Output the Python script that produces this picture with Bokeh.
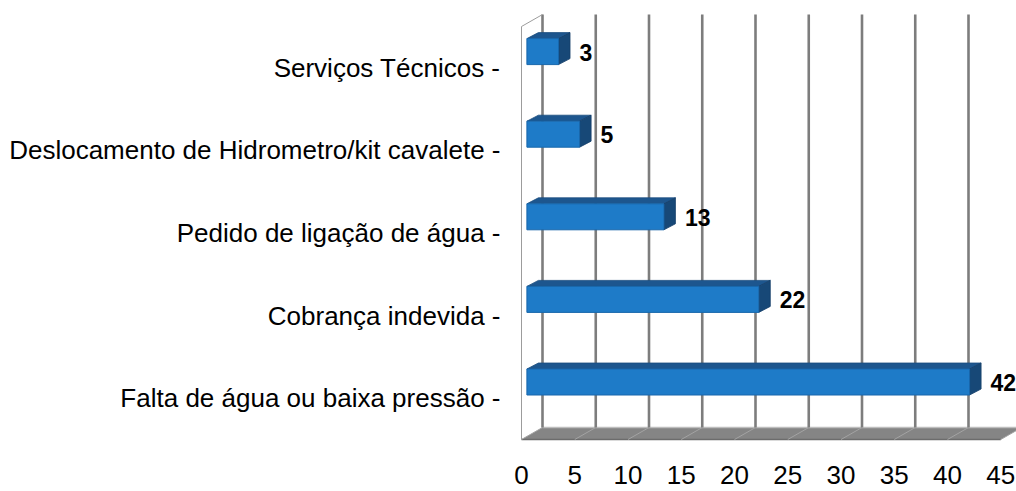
from bokeh.plotting import figure
from bokeh.models import ColumnDataSource, Range1d
from bokeh.core.properties import value
from bokeh.embed import file_html
from bokeh.resources import INLINE

# ---- data (bottom to top) ----
categories = ["Falta de água ou baixa pressão", "Cobrança indevida",
              "Pedido de ligação de água", "Deslocamento de Hidrometro/kit cavalete",
              "Serviços Técnicos"]
counts = [42, 22, 13, 5, 3]
ticks = [0, 5, 10, 15, 20, 25, 30, 35, 40, 45]
tick_labels = [str(t) for t in ticks]

# ---- layout constants (pixels -> data units) ----
W, H = 1016, 491
PX = 10.65          # px per value unit
PY = 82.6           # px per category band
X0 = 521            # canvas px of value 0 on the front plane
Y0 = 439            # canvas px of the front floor edge

def dx(px):
    return px / PX

def dy(px):
    return px / PY

DXW, DYW = dx(21), dy(12)      # depth of the chart box
DXB, DYB = dx(11.5), dy(6)     # depth of the bars
KB = 10.54 / 10.65             # projection of the bar plane
BX0 = dx(5.4)
BH = dy(13)
BOFF = dy(16.2)

def bx(v):
    return BX0 + v * KB

p = figure(width=W, height=H, output_backend="svg", toolbar_location=None,
           x_range=Range1d(-X0 / PX, (W - X0) / PX),
           y_range=Range1d(-(H - Y0) / PY, Y0 / PY),
           x_axis_type=None, y_axis_type=None, min_border=0)
p.min_border_left = p.min_border_right = p.min_border_top = p.min_border_bottom = 0
p.outline_line_color = None
p.xgrid.visible = False
p.ygrid.visible = False
p.background_fill_color = "white"
p.border_fill_color = "white"

n = len(categories)
xmax = ticks[-1]

# floor
p.patch([0, xmax, xmax + DXW, DXW], [0, 0, DYW, DYW],
        fill_color="#858585", line_color=None)
p.segment(x0=[0], y0=[0], x1=[xmax], y1=[0], line_color="#6c6c6c", line_width=1.5)
p.segment(x0=[DXW], y0=[DYW], x1=[xmax + DXW], y1=[DYW], line_color="#bdbdbd", line_width=1.5)
p.segment(x0=[t + DXW for t in ticks], y0=[DYW] * len(ticks),
          x1=ticks, y1=[0] * len(ticks), line_color="#a3a3a3", line_width=1)

# back-wall grid lines
p.segment(x0=[t + DXW for t in ticks], y0=[DYW] * len(ticks),
          x1=[t + DXW for t in ticks], y1=[n + DYW] * len(ticks),
          line_color="#7d7d7d", line_width=2.6)

# left wall edges
p.line([0, 0, DXW], [0, n, n + DYW], line_color="#9c9c9c", line_width=1)

# bars
uc = [i + 0.5 + BOFF for i in range(n)]
src = ColumnDataSource(dict(
    left=[bx(0)] * n, right=[bx(v) for v in counts],
    bottom=[u - BH for u in uc], top=[u + BH for u in uc]))
top_xs = [[bx(0), bx(v), bx(v) + DXB, bx(0) + DXB] for v in counts]
top_ys = [[u + BH, u + BH, u + BH + DYB, u + BH + DYB] for u in uc]
side_xs = [[bx(v), bx(v), bx(v) + DXB, bx(v) + DXB] for v in counts]
side_ys = [[u - BH, u + BH, u + BH + DYB, u - BH + DYB] for u in uc]
p.patches(top_xs, top_ys, fill_color="#1d568e", line_color="#1a4c7e", line_width=0.8)
p.patches(side_xs, side_ys, fill_color="#174877", line_color="#153f69", line_width=0.8)
p.quad(left="left", right="right", bottom="bottom", top="top", source=src,
       fill_color="#1e7bc8", line_color="#1867ac", line_width=1)

# value labels
p.text(x=[bx(v) + DXB + dx(9.5) for v in counts], y=[u - dy(0.5) for u in uc],
       text=[str(v) for v in counts], text_font=value("Liberation Sans"),
       text_font_size="23px", text_font_style="bold", text_color="black",
       text_align="left", text_baseline="alphabetic")

# category labels
p.text(x=[-dx(21)] * n, y=[i + 0.5 for i in range(n)],
       text=[c + " -" for c in categories], text_font=value("Liberation Sans"),
       text_font_size="26px", text_color="black",
       text_align="right", text_baseline="alphabetic")

# tick labels
p.text(x=ticks, y=[-dy(35)] * len(ticks), text=tick_labels,
       text_font=value("Liberation Sans"), text_font_size="26px",
       text_color="black", text_align="center", text_baseline="alphabetic")

open("out.html", "w").write(file_html(p, INLINE))
